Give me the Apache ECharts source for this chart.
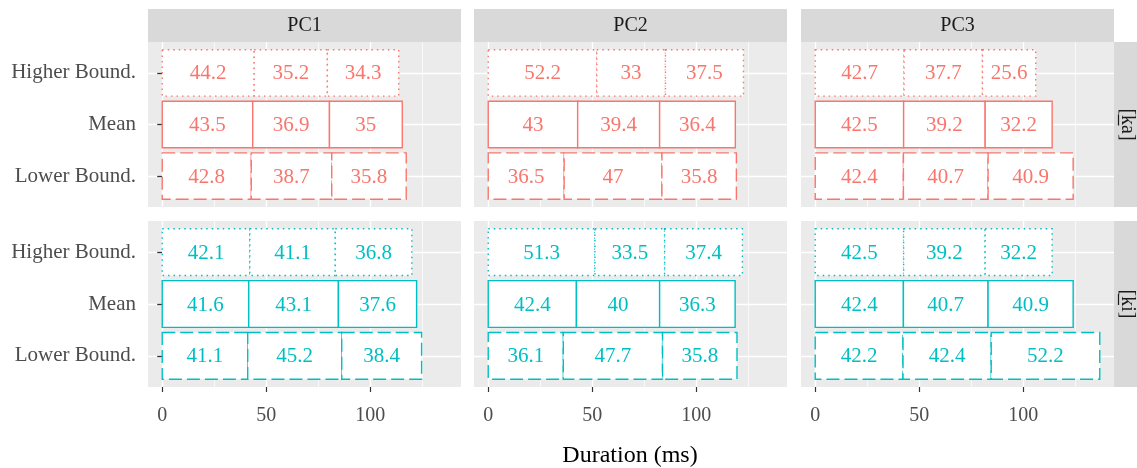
<!DOCTYPE html>
<html>
<head>
<meta charset="utf-8">
<script src="https://cdn.jsdelivr.net/npm/echarts@6/dist/echarts.min.js"></script>
<style>
  html, body { margin: 0; padding: 0; background: #fff; }
  #chart { width: 1137px; height: 468px; }
</style>
</head>
<body>
<div id="chart"></div>
<script>
// categories on the y axis, top to bottom
const categories = ['Higher Bound.', 'Mean', 'Lower Bound.'];
const panels = ['PC1', 'PC2', 'PC3'];
const groups = ['[ka]', '[ki]'];
const xTicks = [0, 50, 100];
const xMinorTicks = [25, 75, 125];

// segment durations (ms), one row per category, three stacked parts each
const kaPC1 = [[44.2, 35.2, 34.3], [43.5, 36.9, 35], [42.8, 38.7, 35.8]];
const kaPC2 = [[52.2, 33, 37.5], [43, 39.4, 36.4], [36.5, 47, 35.8]];
const kaPC3 = [[42.7, 37.7, 25.6], [42.5, 39.2, 32.2], [42.4, 40.7, 40.9]];
const kiPC1 = [[42.1, 41.1, 36.8], [41.6, 43.1, 37.6], [41.1, 45.2, 38.4]];
const kiPC2 = [[51.3, 33.5, 37.4], [42.4, 40, 36.3], [36.1, 47.7, 35.8]];
const kiPC3 = [[42.5, 39.2, 32.2], [42.4, 40.7, 40.9], [42.2, 42.4, 52.2]];

const groupData = [[kaPC1, kaPC2, kaPC3], [kiPC1, kiPC2, kiPC3]];
const groupColors = ['#F8766D', '#00BFC4'];
// dotted, solid, dashed by category
const dashes = [[1.5, 4], null, [13, 5]];

const FONT = "'Liberation Serif', 'Times New Roman', serif";

// shared x range with ggplot's 5% expansion
let maxTotal = 0;
groupData.forEach(g => g.forEach(p => p.forEach(r => {
  maxTotal = Math.max(maxTotal, r.reduce((a, b) => a + b, 0));
})));
const xMin = -0.05 * maxTotal, xMax = 1.05 * maxTotal;

const colLeft = [148, 474, 801];
const colWidth = 313;
const rowTop = [42, 221];
const rowHeight = [165, 166];

const grids = [], xAxes = [], yAxes = [], series = [], graphics = [];

for (let r = 0; r < 2; r++) {
  for (let c = 0; c < 3; c++) {
    const g = grids.length;
    const bottomRow = r === 1, leftCol = c === 0;
    grids.push({
      left: colLeft[c], top: rowTop[r], width: colWidth, height: rowHeight[r],
      show: true, backgroundColor: '#EBEBEB', borderWidth: 0
    });
    xAxes.push({
      type: 'value', gridIndex: g, min: xMin, max: xMax, position: 'bottom',
      axisLine: { show: false },
      axisTick: { show: bottomRow, customValues: xTicks, length: 5, lineStyle: { color: '#333', width: 1.2 } },
      axisLabel: { show: bottomRow, customValues: xTicks, margin: 19, color: '#4D4D4D', fontFamily: FONT, fontSize: 20 },
      splitLine: { show: true, lineStyle: { color: '#fff', width: 1.4 } }
    });
    xAxes.push({
      type: 'value', gridIndex: g, min: xMin, max: xMax, position: 'top',
      axisLine: { show: false },
      axisTick: { show: false, customValues: xMinorTicks },
      axisLabel: { show: false, customValues: xMinorTicks },
      splitLine: { show: true, lineStyle: { color: '#fff', width: 0.7 } }
    });
    yAxes.push({
      type: 'value', gridIndex: g, min: 0.4, max: 3.6, inverse: true,
      axisLine: { show: false },
      axisTick: { show: leftCol, customValues: [1, 2, 3], length: 5, lineStyle: { color: '#333', width: 1.3 } },
      axisLabel: {
        show: leftCol, customValues: [1, 2, 3], margin: 12, color: '#4D4D4D', fontFamily: FONT, fontSize: 21,
        padding: [4, 0, 0, 0],
        formatter: v => categories[Math.round(v) - 1]
      },
      splitLine: { show: true, lineStyle: { color: '#fff', width: 1.4 } }
    });

    const rows = groupData[r][c];
    const data = [];
    rows.forEach((parts, i) => {
      let start = 0;
      parts.forEach(v => {
        data.push([start, start + v, i + 1, v]);
        start += v;
      });
    });
    const color = groupColors[r];
    series.push({
      type: 'custom', xAxisIndex: 2 * g, yAxisIndex: g, data: data,
      renderItem: (params, api) => {
        const s = api.value(0), e = api.value(1), cat = api.value(2), v = api.value(3);
        const p0 = api.coord([s, cat - 0.45]);
        const p1 = api.coord([e, cat + 0.45]);
        const x = Math.min(p0[0], p1[0]), y = Math.min(p0[1], p1[1]);
        const w = Math.abs(p1[0] - p0[0]), h = Math.abs(p1[1] - p0[1]);
        return {
          type: 'group',
          children: [
            { type: 'rect', shape: { x: x, y: y, width: w, height: h },
              style: { fill: '#fff', stroke: color, lineWidth: 1.4, lineDash: dashes[cat - 1] } },
            { type: 'text', style: { text: String(v), x: x + w / 2, y: y + h / 2 + 1, align: 'center', verticalAlign: 'middle',
              fill: color, font: '21px ' + FONT } }
          ]
        };
      }
    });
  }
}

// strips
for (let c = 0; c < 3; c++) {
  graphics.push({ type: 'rect', shape: { x: colLeft[c], y: 9, width: colWidth, height: 33 }, style: { fill: '#D9D9D9' } });
  graphics.push({ type: 'text', x: colLeft[c] + colWidth / 2, y: 26,
    style: { text: panels[c], align: 'center', verticalAlign: 'middle', fill: '#1A1A1A', font: '20px ' + FONT } });
}
for (let r = 0; r < 2; r++) {
  const cy = rowTop[r] + rowHeight[r] / 2;
  graphics.push({ type: 'rect', shape: { x: 1114, y: rowTop[r], width: 33, height: rowHeight[r] }, style: { fill: '#D9D9D9' } });
  graphics.push({ type: 'text', x: 1127, y: cy, rotation: -Math.PI / 2,
    style: { text: groups[r], align: 'center', verticalAlign: 'middle', fill: '#1A1A1A', font: '20px ' + FONT } });
  // underline below the k (text is rotated, so the line is vertical)
  graphics.push({ type: 'line', shape: { x1: 1118.5, y1: cy - 10, x2: 1118.5, y2: cy + 1 },
    style: { stroke: '#1A1A1A', lineWidth: 1.2 } });
}
graphics.push({ type: 'text', x: 630, y: 456,
  style: { text: 'Duration (ms)', align: 'center', verticalAlign: 'middle', fill: '#000', font: '24px ' + FONT } });

const chart = echarts.init(document.getElementById('chart'), null, { renderer: 'canvas' });
chart.setOption({
  animation: false,
  backgroundColor: '#fff',
  grid: grids,
  xAxis: xAxes,
  yAxis: yAxes,
  series: series,
  graphic: graphics
});
</script>
</body>
</html>
